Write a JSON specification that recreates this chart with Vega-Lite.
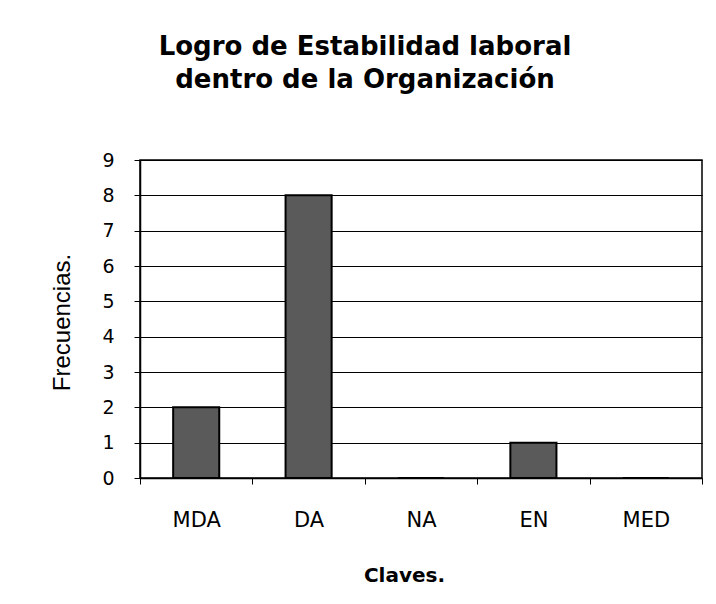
{
  "$schema": "https://vega.github.io/schema/vega-lite/v6.json",
  "width": 562,
  "height": 318,
  "autosize": {"type": "none"},
  "padding": {"left": 140, "top": 160, "right": 14, "bottom": 126},
  "background": "white",
  "title": {
    "text": ["Logro de Estabilidad laboral", "dentro de la Organización"],
    "font": "DejaVu Sans",
    "fontSize": 26,
    "fontWeight": "bold",
    "color": "black",
    "anchor": "middle",
    "frame": "group",
    "dx": -56,
    "offset": 58,
    "lineHeight": 33
  },
  "data": {
    "values": [
      {"clave": "MDA", "frecuencia": 2},
      {"clave": "DA", "frecuencia": 8},
      {"clave": "NA", "frecuencia": 0},
      {"clave": "EN", "frecuencia": 1},
      {"clave": "MED", "frecuencia": 0}
    ]
  },
  "mark": {"type": "bar", "fill": "#5a5a5a", "stroke": "black", "strokeWidth": 2, "width": {"band": 0.41}},
  "encoding": {
    "x": {
      "field": "clave",
      "type": "nominal",
      "sort": ["MDA", "DA", "NA", "EN", "MED"],
      "scale": {"paddingInner": 0, "paddingOuter": 0},
      "axis": {
        "title": "Claves.",
        "labelAngle": 0,
        "tickBand": "extent",
        "tickSize": 6,
        "labelPadding": 25,
        "labelFont": "DejaVu Sans",
        "labelFontSize": 21,
        "labelColor": "black",
        "titleFont": "DejaVu Sans",
        "titleFontSize": 20,
        "titleFontWeight": "bold",
        "titleColor": "black",
        "titleX": 264,
        "titleY": 97,
        "titleBaseline": "middle",
        "domainColor": "black",
        "domainWidth": 1.5,
        "tickColor": "black",
        "tickWidth": 1,
        "grid": false
      }
    },
    "y": {
      "field": "frecuencia",
      "type": "quantitative",
      "scale": {"domain": [0, 9], "nice": false},
      "axis": {
        "title": "Frecuencias.",
        "values": [0, 1, 2, 3, 4, 5, 6, 7, 8, 9],
        "tickSize": 6,
        "labelPadding": 20,
        "labelFont": "DejaVu Sans",
        "labelFontSize": 19,
        "labelColor": "black",
        "titleFont": "Liberation Sans",
        "titleFontSize": 24,
        "titleFontWeight": "normal",
        "titleColor": "black",
        "titleX": -78,
        "titleY": 162,
        "titleBaseline": "middle",
        "titleAngle": -90,
        "domainColor": "black",
        "domainWidth": 1.5,
        "tickColor": "black",
        "grid": true,
        "gridColor": "black",
        "gridWidth": 1.2,
        "gridOpacity": 1
      }
    }
  },
  "config": {
    "view": {"stroke": "black", "strokeWidth": 1.5}
  }
}
